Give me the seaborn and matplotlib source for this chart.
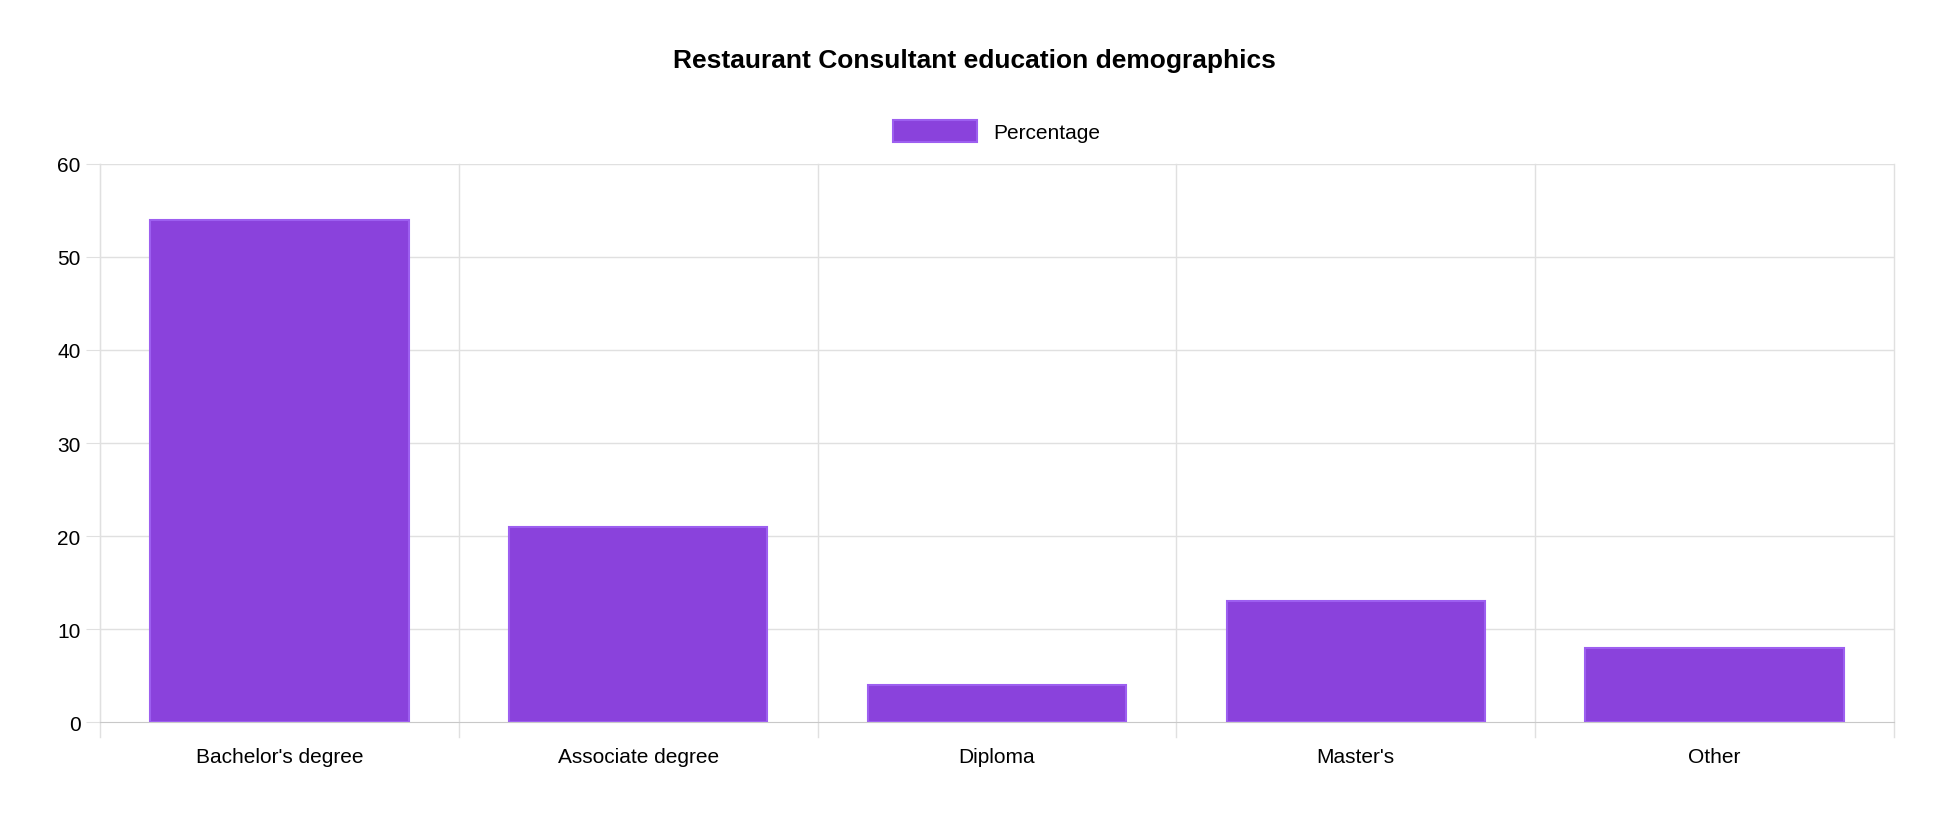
import numpy as np
import pandas as pd
import matplotlib.pyplot as plt
import seaborn as sns

categories = ["Bachelor's degree", "Associate degree", "Diploma", "Master's", "Other"]
percentages = [54, 21, 4, 13, 8]

df = pd.DataFrame({"Education": categories, "Percentage": percentages})

plt.rcParams["font.family"] = "Liberation Sans"
fig = plt.figure(figsize=(19.48, 8.2), dpi=100)
ax = fig.add_axes([0.0513, 0.118, 0.921, 0.681])

sns.barplot(data=df, x="Education", y="Percentage", color="#8a42dc",
            width=0.72, edgecolor="#9d5ff0", linewidth=1.5, saturation=1,
            ax=ax, label="Percentage", zorder=3)

ax.set_xlim(-0.5, len(categories) - 0.5)
ax.set_ylim(0, 60)
ax.set_yticks(range(0, 61, 10))
ax.set_xlabel("")
ax.set_ylabel("")

# grid: horizontal at y ticks, vertical at category boundaries
for y in range(10, 61, 10):
    ax.axhline(y, color="#e0e0e0", lw=1, zorder=0)
for xb in np.arange(-0.5, len(categories), 1.0):
    ax.plot([xb, xb], [-1.6, 60], color="#e0e0e0", lw=1, zorder=0, clip_on=False)

for s in ["top", "right"]:
    ax.spines[s].set_visible(False)
ax.spines["left"].set_color("#e0e0e0")
ax.spines["bottom"].set_color("#c8c8c8")
ax.tick_params(axis="x", length=0, pad=18, labelsize=15)
ax.tick_params(axis="y", length=10, color="#e0e0e0", labelsize=15, pad=4)

fig.suptitle("Restaurant Consultant education demographics", y=0.94,
             fontsize=19, fontweight="bold")
leg = ax.legend(loc="lower center", bbox_to_anchor=(0.5, 1.005), frameon=False,
                fontsize=15, handlelength=4, handleheight=1.3)

fig.savefig("out.png", dpi=100)
